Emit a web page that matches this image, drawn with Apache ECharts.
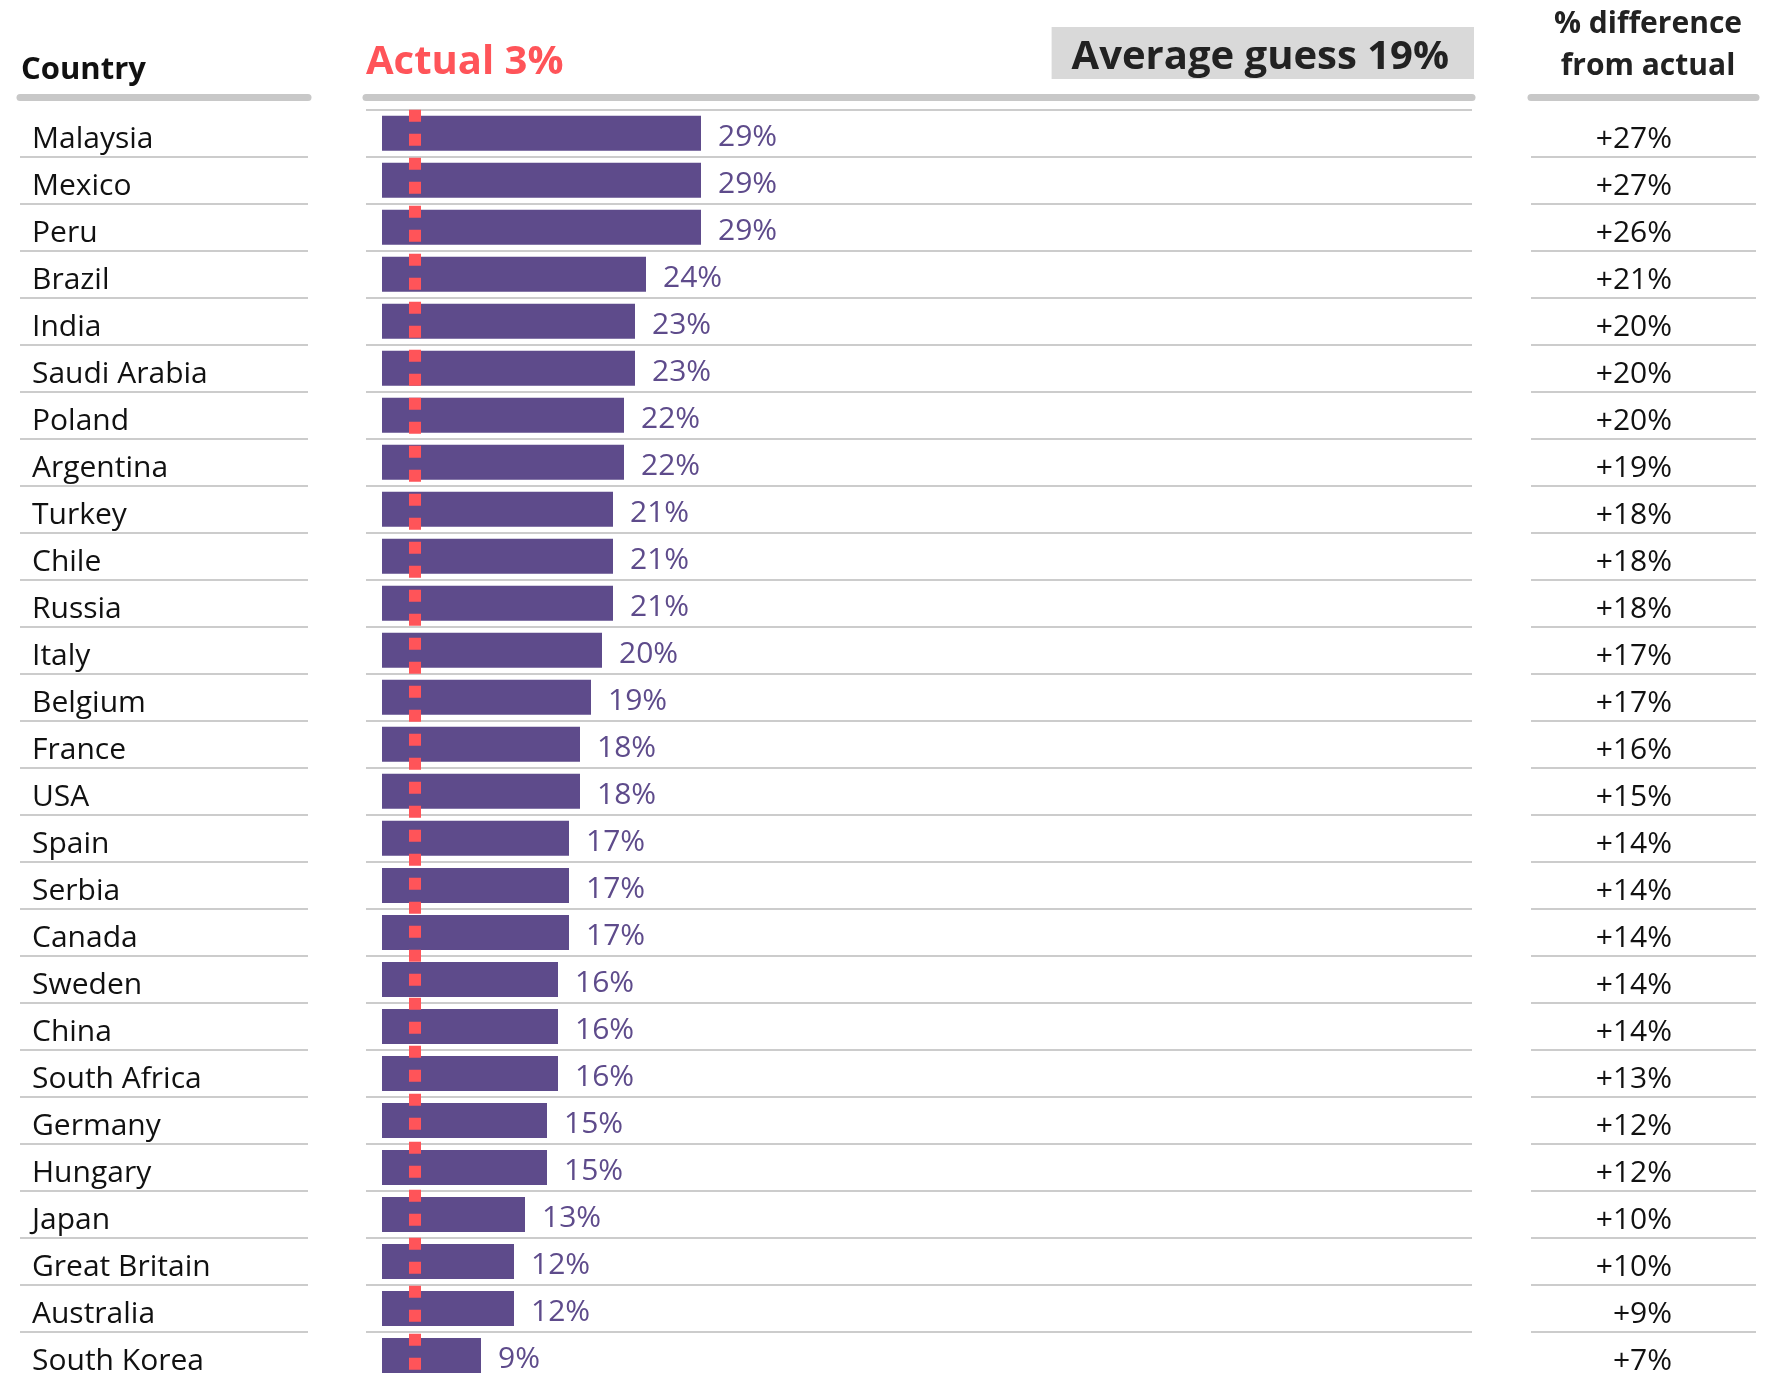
<!DOCTYPE html>
<html>
<head>
<meta charset="utf-8">
<title>Perception vs actual</title>
<script src="https://cdn.jsdelivr.net/npm/echarts@6/dist/echarts.min.js"></script>
<style>
	html, body { margin: 0; padding: 0; background: #fff; }
	#chart { width: 1770px; height: 1379px; }
</style>
</head>
<body>
<div id="chart"></div>
<script>
/*******************************/
/*data*/
/*******************************/
var countries = ['Malaysia', 'Mexico', 'Peru', 'Brazil', 'India', 'Saudi Arabia', 'Poland', 'Argentina',
	'Turkey', 'Chile', 'Russia', 'Italy', 'Belgium', 'France', 'USA', 'Spain', 'Serbia', 'Canada',
	'Sweden', 'China', 'South Africa', 'Germany', 'Hungary', 'Japan', 'Great Britain', 'Australia', 'South Korea'];
var guesses = [29, 29, 29, 24, 23, 23, 22, 22, 21, 21, 21, 20, 19, 18, 18, 17, 17, 17, 16, 16, 16, 15, 15, 13, 12, 12, 9];
var diffs = [27, 27, 26, 21, 20, 20, 20, 19, 18, 18, 18, 17, 17, 16, 15, 14, 14, 14, 14, 14, 13, 12, 12, 10, 10, 9, 7];
var actual = 3;
var averageGuess = 19;

/*******************************/
/*layout / styles*/
/*******************************/
var FONT = "'Open Sans', 'Noto Sans', sans-serif";
var PURPLE = '#5e4b8b';
var RED = '#ff5459';
var RULE = '#cccccc';
var HEAD_RULE = '#c8c8c8';
var ROW_H = 47.32;
var TOP = 109.7;
var HEIGHT = ROW_H * countries.length;

/*
**builds a hidden value axis whose top line is the thick header rule
*/
function headAxis(idx, min, max) {
	return {
		type: 'value', gridIndex: idx, min: min, max: max, position: 'top', offset: 12.2,
		axisLine: { show: true, lineStyle: { color: HEAD_RULE, width: 7 } },
		axisTick: { show: false }, axisLabel: { show: false }, splitLine: { show: false }
	};
}
/*
**category axis with row rules
*/
function rowAxis(idx, label, showMin) {
	return {
		type: 'category', gridIndex: idx, inverse: true, data: countries,
		axisLine: { show: false }, axisTick: { show: false },
		axisLabel: label,
		splitLine: { show: true, interval: 0, showMinLine: showMin, showMaxLine: false,
			lineStyle: { color: RULE, width: 2 } }
	};
}

var option = {
	animation: false,
	textStyle: { fontFamily: FONT },
	title: [
		{ text: 'Country', left: 21, top: 55, padding: 0,
			textStyle: { fontFamily: FONT, fontSize: 31, fontWeight: 'bold', color: '#111' } },
		{ text: 'Actual ' + actual + '%', left: 366, top: 43, padding: 0,
			textStyle: { fontFamily: FONT, fontSize: 40, fontWeight: 'bold', color: RED } },
		{ text: 'Average guess ' + averageGuess + '%', right: 296, top: 27, padding: [10, 25, 0, 20],
			backgroundColor: '#d9d9d9',
			textStyle: { fontFamily: FONT, fontSize: 40, lineHeight: 42, fontWeight: 'bold', color: '#222' } },
		{ text: '% difference\nfrom actual', left: 1648, top: 3, padding: 0, textAlign: 'center',
			textStyle: { fontFamily: FONT, fontSize: 30, lineHeight: 42, fontWeight: 'bold', color: '#222' } }
	],
	grid: [
		{ left: 20, top: TOP, width: 288, height: HEIGHT },
		{ left: 366, top: TOP, width: 1106, height: HEIGHT },
		{ left: 1531, top: TOP, width: 225, height: HEIGHT }
	],
	xAxis: [
		headAxis(0, 0, 1),
		headAxis(1, -16 / 11, -16 / 11 + 1106 / 11),
		headAxis(2, 0, 1)
	],
	yAxis: [
		rowAxis(0, { show: true, inside: true, margin: 12, interval: 0, align: 'left',
			verticalAlign: 'top', lineHeight: 12,
			fontFamily: FONT, fontSize: 30, color: '#111' }, false),
		rowAxis(1, { show: false }, true),
		Object.assign(rowAxis(2, { show: true, inside: true, margin: 84, interval: 0, align: 'right',
			verticalAlign: 'top', lineHeight: 12, fontFamily: FONT, fontSize: 30, color: '#111',
			formatter: function (v, i) { return '+' + diffs[i] + '%'; } }, false), { position: 'right' })
	],
	series: [
		{
			type: 'bar', xAxisIndex: 1, yAxisIndex: 1, data: guesses, barWidth: 35,
			itemStyle: { color: PURPLE },
			label: { show: true, position: 'right', distance: 17, offset: [0, 4], formatter: '{c}%',
				fontFamily: FONT, fontSize: 30, color: PURPLE },
			markLine: {
				silent: true, symbol: ['none', 'none'], label: { show: false },
				lineStyle: { color: RED, width: 12, type: [12, 12], opacity: 1 },
				data: [{ xAxis: actual }]
			}
		}
	]
};

/*
**init and draw
*/
function setOption(ident, opt) {
	var myChart = echarts.init(document.getElementById(ident));
	myChart.setOption(opt);
}
setOption('chart', option);
</script>
</body>
</html>
